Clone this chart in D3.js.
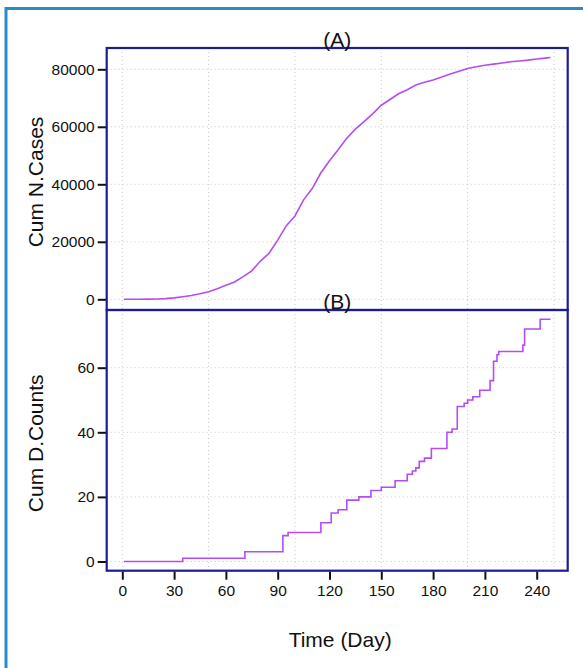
<!DOCTYPE html>
<html>
<head>
<meta charset="utf-8">
<script src="https://cdn.jsdelivr.net/npm/d3@7"></script>
<style>
  body { margin: 0; background: #fff; }
  svg text { font-family: "Liberation Sans", Arial, sans-serif; fill: #111; }
</style>
</head>
<body>
<svg id="chart" width="583" height="668"></svg>
<script>
// Cumulative number of cases (panel A)
const caseDays = [1, 5, 10, 15, 20, 25, 30, 35, 40, 45, 50, 55, 60, 65, 70, 75, 80, 85, 90, 95,
    100, 105, 110, 115, 120, 125, 130, 135, 140, 145, 150, 155, 160, 165, 170, 175, 180, 185,
    190, 195, 200, 205, 210, 215, 220, 225, 230, 235, 240, 245, 248];
const caseCounts = [0, 0, 20, 60, 130, 250, 500, 900, 1300, 1900, 2600, 3700, 4900, 6000, 7900,
    9900, 13300, 16000, 20600, 25600, 29000, 34600, 38500, 44000, 48200, 52000, 56000, 59200,
    61800, 64500, 67500, 69500, 71500, 72900, 74500, 75500, 76300, 77300, 78400, 79300, 80300,
    80900, 81400, 81800, 82200, 82600, 82900, 83200, 83600, 83900, 84100];

// Cumulative death counts (panel B), day where each new level starts
const deathDays = [1, 35, 71, 93, 96, 115, 121, 125, 130, 137, 144, 150, 158, 165, 168, 170, 172,
    175, 179, 188, 191, 194, 198, 200, 203, 207, 213, 215, 217, 218, 232, 233, 242, 248];
const deathCounts = [0, 1, 3, 8, 9, 12, 15, 16, 19, 20, 22, 23, 25, 27, 28, 29, 31,
    32, 35, 40, 41, 48, 49, 50, 51, 53, 56, 62, 64, 65, 67, 72, 75, 75];

const xTicks = [0, 30, 60, 90, 120, 150, 180, 210, 240];
const xGrid = [0, 50, 100, 150, 200, 250];
const caseTicks = [0, 20000, 40000, 60000, 80000];
const deathTicks = [0, 20, 40, 60];

const lineColor = "#b44cf6";
const boxColor = "#1c1c94";
const gridColor = "#c8c8c8";

const svg = d3.select("#chart");

// outer frame (only left and top show in the picture)
svg.append("rect")
    .attr("x", 6).attr("y", 8.5)
    .attr("width", 700).attr("height", 800)
    .attr("fill", "none")
    .attr("stroke", "#2a8cc6")
    .attr("stroke-width", 3);

const box = { left: 106.7, right: 567.7 };

const x = d3.scaleLinear().domain([0, 240]).range([122.3, 536.7]);

const panels = [
    {
        title: "(A)", ylab: "Cum N.Cases", top: 48, bottom: 310,
        y: d3.scaleLinear().domain([0, 80000]).range([299.3, 69.3]),
        ticks: caseTicks, days: caseDays, vals: caseCounts, curve: d3.curveLinear
    },
    {
        title: "(B)", ylab: "Cum D.Counts", top: 310, bottom: 570.7,
        y: d3.scaleLinear().domain([0, 60]).range([561.5, 367.7]),
        ticks: deathTicks, days: deathDays, vals: deathCounts, curve: d3.curveStepAfter
    }
];

panels.forEach((p, i) => {
    const g = svg.append("g");

    // grid
    g.selectAll(".vgrid")
        .data(xGrid)
        .enter()
        .append("line")
        .attr("x1", d => x(d)).attr("x2", d => x(d))
        .attr("y1", p.top).attr("y2", p.bottom)
        .attr("stroke", gridColor)
        .attr("stroke-width", 1)
        .attr("stroke-dasharray", "1,3");
    g.selectAll(".hgrid")
        .data(p.ticks)
        .enter()
        .append("line")
        .attr("x1", box.left).attr("x2", box.right)
        .attr("y1", d => p.y(d)).attr("y2", d => p.y(d))
        .attr("stroke", gridColor)
        .attr("stroke-width", 1)
        .attr("stroke-dasharray", "1,3");

    // series
    const pts = p.days.map((d, k) => [d, p.vals[k]]);
    g.append("path")
        .datum(pts)
        .attr("fill", "none")
        .attr("stroke", lineColor)
        .attr("stroke-width", 1.6)
        .attr("d", d3.line().x(d => x(d[0])).y(d => p.y(d[1])).curve(p.curve));

    // y axis ticks
    const yAxis = d3.axisLeft(p.y).tickValues(p.ticks).tickSize(9).tickPadding(3).tickFormat(d3.format("d"));
    const ya = g.append("g")
        .attr("transform", `translate(${box.left},0)`)
        .call(yAxis);
    ya.select(".domain").remove();
    ya.selectAll("line").attr("stroke", "#111").attr("stroke-width", 2);
    ya.selectAll("text").attr("font-size", 15.5);

    // box
    g.append("rect")
        .attr("x", box.left).attr("y", p.top)
        .attr("width", box.right - box.left).attr("height", p.bottom - p.top)
        .attr("fill", "none")
        .attr("stroke", boxColor)
        .attr("stroke-width", 2.2);

    // title
    g.append("text")
        .attr("x", (box.left + box.right) / 2)
        .attr("y", p.top - 1.5)
        .attr("text-anchor", "middle")
        .attr("font-size", 21)
        .text(p.title);

    // y label
    g.append("text")
        .attr("transform", `translate(43,${(p.top + p.bottom) / 2 + 3}) rotate(-90)`)
        .attr("text-anchor", "middle")
        .attr("font-size", 21)
        .text(p.ylab);
});

// x axis under panel B
const xAxis = d3.axisBottom(x).tickValues(xTicks).tickSize(8).tickPadding(5);
const xa = svg.append("g")
    .attr("transform", "translate(0,571.7)")
    .call(xAxis);
xa.select(".domain").remove();
xa.selectAll("line").attr("stroke", "#111").attr("stroke-width", 2);
xa.selectAll("text").attr("font-size", 15.5);

svg.append("text")
    .attr("x", (box.left + box.right) / 2 + 3)
    .attr("y", 647)
    .attr("text-anchor", "middle")
    .attr("font-size", 21)
    .text("Time (Day)");
</script>
</body>
</html>
